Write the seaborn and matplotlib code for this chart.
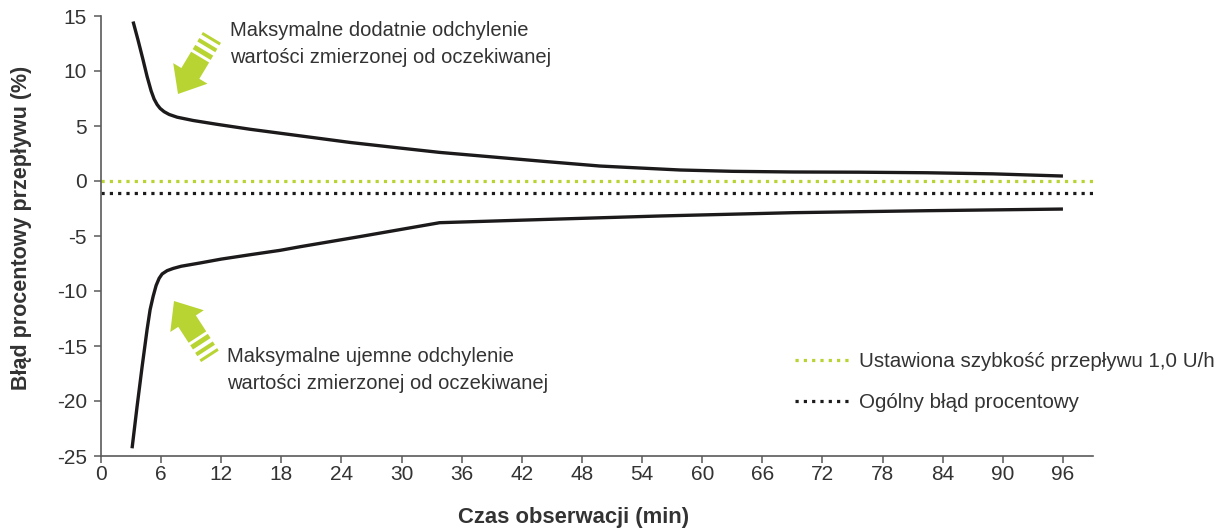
import numpy as np
import pandas as pd
import matplotlib
matplotlib.use("Agg")
import matplotlib.pyplot as plt
from matplotlib.patches import Polygon
from matplotlib.lines import Line2D
import seaborn as sns

# Upper envelope: maximum positive deviation (%) over observation time (min)
t_upper = [3.2, 3.7, 4.2, 4.6, 5.0, 5.3, 5.6, 5.9, 6.3, 6.8, 7.6, 9.2,
           11.6, 14.9, 19.9, 24.9, 29.8, 33.8, 44.5, 49.8, 57.8, 63.0,
           69.0, 75.7, 82.4, 89.0, 96.0]
err_upper = [14.5, 12.8, 11.0, 9.5, 8.2, 7.45, 6.95, 6.6, 6.3, 6.05, 5.8,
             5.5, 5.15, 4.7, 4.1, 3.5, 3.0, 2.6, 1.76, 1.36, 1.0, 0.88,
             0.82, 0.8, 0.75, 0.65, 0.45]

# Lower envelope: maximum negative deviation (%)
t_lower = [3.1, 3.6, 4.1, 4.6, 4.9, 5.2, 5.5, 5.8, 6.1, 6.6, 7.2, 8.0,
           9.9, 12.0, 14.9, 17.9, 19.9, 25.8, 33.8, 44.5, 55.8, 69.1,
           82.4, 96.0]
err_lower = [-24.3, -20.5, -16.9, -13.5, -11.7, -10.5, -9.5, -8.85, -8.45,
             -8.15, -7.95, -7.75, -7.45, -7.1, -6.7, -6.3, -5.97, -5.06,
             -3.79, -3.49, -3.18, -2.88, -2.7, -2.55]

set_rate_error = 0.0
overall_error = -1.1

x_ticks = list(range(0, 97, 6))
y_ticks = list(range(-25, 16, 5))

label_set_rate = "Ustawiona szybkość przepływu 1,0 U/h"
label_overall = "Ogólny błąd procentowy"
note_upper = "Maksymalne dodatnie odchylenie\nwartości zmierzonej od oczekiwanej"
note_lower = "Maksymalne ujemne odchylenie\nwartości zmierzonej od oczekiwanej"
x_label = "Czas obserwacji (min)"
y_label = "Błąd procentowy przepływu (%)"

GREEN = "#b7d432"
INK = "#1c1a1b"
TEXT = "#333333"

sns.set_theme(style="ticks")
plt.rcParams["font.family"] = ["Liberation Sans", "DejaVu Sans"]
plt.rcParams["axes.unicode_minus"] = False

W, H = 1219, 530
fig = plt.figure(figsize=(W / 100, H / 100), dpi=100)
ax = fig.add_axes([101 / W, 74 / H, 992 / W, 440 / H])


def px(x, y):
    """Pixel position (origin top-left) to figure fraction."""
    return x / W, 1 - y / H


df = pd.concat([
    pd.DataFrame({"t": t_upper, "err": err_upper, "bound": "upper"}),
    pd.DataFrame({"t": t_lower, "err": err_lower, "bound": "lower"}),
], ignore_index=True)

sns.lineplot(data=df, x="t", y="err", hue="bound",
             palette={"upper": INK, "lower": INK}, estimator=None,
             sort=False, linewidth=2.4, legend=False, ax=ax)
for line in ax.get_lines():
    line.set_solid_joinstyle("round")
    line.set_solid_capstyle("butt")

dot = (0, (1, 1.6))
ax.axhline(set_rate_error, color=GREEN, lw=2.3, linestyle=dot)
ax.axhline(overall_error, color=INK, lw=2.3, linestyle=dot)

ax.set_xlim(0, 99)
ax.set_ylim(-25, 15)
ax.set_xticks(x_ticks)
ax.set_yticks(y_ticks)
ax.set_xlabel("")
ax.set_ylabel("")
sns.despine(ax=ax)
for side in ("left", "bottom"):
    ax.spines[side].set_color("#5a5a5a")
    ax.spines[side].set_linewidth(1.2)
ax.tick_params(axis="both", direction="out", length=5, width=1.1,
               color="#5a5a5a", labelsize=15, labelcolor=TEXT)
ax.tick_params(axis="x", pad=1.5)
ax.tick_params(axis="y", pad=5)

fig.text(*px(574, 518), x_label, ha="center", va="center",
         fontsize=15.8, fontweight="bold", color=TEXT)
fig.text(*px(22, 228), y_label, ha="center", va="center", rotation=90,
         fontsize=15.5, fontweight="bold", color=TEXT)

fig.text(*px(230, 44), note_upper, ha="left", va="center",
         fontsize=14.5, color=TEXT, linespacing=1.48)
fig.text(*px(227, 370), note_lower, ha="left", va="center",
         fontsize=14.5, color=TEXT, linespacing=1.48)

handles = [Line2D([], [], color=GREEN, lw=2.3, linestyle=dot),
           Line2D([], [], color=INK, lw=2.3, linestyle=dot)]
fig.legend(handles, [label_set_rate, label_overall], loc="center left",
           bbox_to_anchor=px(795, 382), frameon=False, fontsize=14.8,
           handlelength=2.67, handletextpad=0.45, labelspacing=1.07,
           borderpad=0, borderaxespad=0, labelcolor=TEXT)


def striped_arrow(tip, tail):
    """Block arrow with a striped tail, given in pixel coordinates."""
    tip = np.array(tip, float)
    tail = np.array(tail, float)
    u = (tail - tip) / np.linalg.norm(tail - tip)
    v = np.array([-u[1], u[0]])

    def pts(coords):
        return [px(*(tip + a * u + b * v)) for a, b in coords]

    hw, sw = 20, 10.5
    body = [(0, 0), (24, hw), (24, sw), (43, sw), (43, -sw), (24, -sw),
            (24, -hw)]
    fig.patches.append(Polygon(pts(body), closed=True, color=GREEN,
                               transform=fig.transFigure, lw=0))
    for a0, a1 in [(46, 51), (55, 59), (63, 66)]:
        stripe = [(a0, sw), (a1, sw), (a1, -sw), (a0, -sw)]
        fig.patches.append(Polygon(pts(stripe), closed=True, color=GREEN,
                                   transform=fig.transFigure, lw=0))


striped_arrow((178, 94), (214, 34))
striped_arrow((174, 301), (211, 358))

fig.savefig("out.png", dpi=100)
